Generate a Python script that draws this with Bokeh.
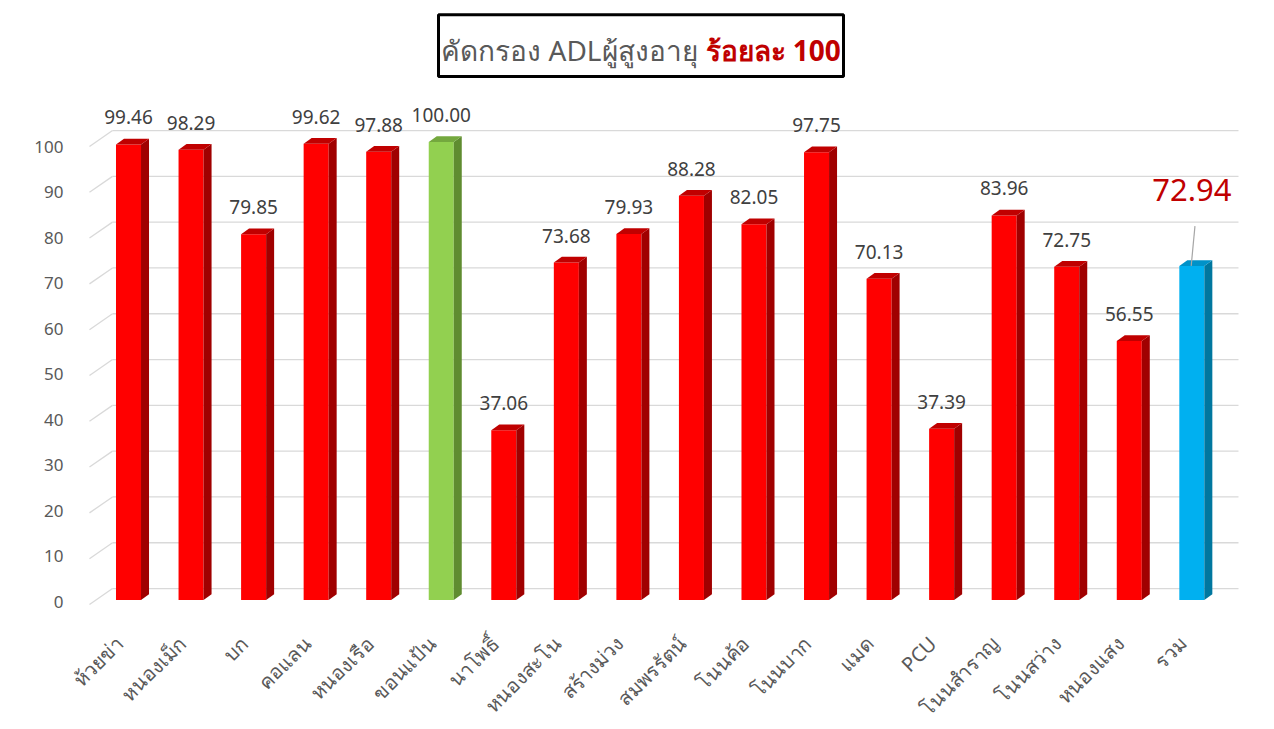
import math
from bokeh.plotting import figure
from bokeh.models import Range1d, FixedTicker, LinearAxis, BoxAnnotation, Label
from bokeh.core.properties import value
from bokeh.embed import file_html
from bokeh.resources import INLINE

# ---- data ----
districts = ["ห้วยข่า", "หนองเม็ก", "บก", "คอแลน", "หนองเรือ", "ขอนแป้น", "นาโพธิ์",
             "หนองสะโน", "สร้างม่วง", "สมพรรัตน์", "โนนค้อ", "โนนบาก", "แมด", "PCU",
             "โนนสำราญ", "โนนสว่าง", "หนองแสง", "รวม"]
percent = [99.46, 98.29, 79.85, 99.62, 97.88, 100.00, 37.06, 73.68, 79.93, 88.28,
           82.05, 97.75, 70.13, 37.39, 83.96, 72.75, 56.55, 72.94]
y_ticks = [0, 10, 20, 30, 40, 50, 60, 70, 80, 90, 100]
title_main = "คัดกรอง ADLผู้สูงอายุ"
title_red = "ร้อยละ 100"
total_name = "รวม"

FONT = "Noto Sans"
GRAY = "#595959"

n = len(districts)
xs = list(range(n))

# frame spans nearly the whole canvas so rotated category labels can be drawn below the floor
p = figure(width=1266, height=721, output_backend="svg", toolbar_location=None,
           x_range=Range1d(-1.407, 18.066), y_range=Range1d(-26.53, 128.71),
           min_border_left=40, min_border_right=8, min_border_top=10, min_border_bottom=0,
           background_fill_color="white", border_fill_color="white")
p.outline_line_color = None
p.xgrid.visible = False
p.ygrid.visible = False
p.xaxis.visible = False
p.yaxis.visible = False

# y labels sit on the front floor edge (slightly lower than bar fronts)
p.extra_y_ranges = {"ax": Range1d(-26.37, 129.89)}
yax = LinearAxis(y_range_name="ax", ticker=FixedTicker(ticks=y_ticks))
yax.axis_line_color = None
yax.major_tick_line_color = None
yax.minor_tick_line_color = None
yax.major_tick_out = 0
yax.major_tick_in = 0
yax.major_label_standoff = -23
yax.major_label_text_font = FONT
yax.major_label_text_font_size = "17px"
yax.major_label_text_color = GRAY
p.add_layout(yax, "left")

# ---- 3D wall grid ----
wall_dy = 2.5
wall_left_front = -0.624
wall_left_back = -0.256
wall_right = 17.746
front_drop = 0.98
p.segment(x0=[wall_left_back] * len(y_ticks), y0=[t + wall_dy for t in y_ticks],
          x1=[wall_right] * len(y_ticks), y1=[t + wall_dy for t in y_ticks],
          line_color="#D9D9D9", line_width=1.3)
p.segment(x0=[wall_left_front] * len(y_ticks), y0=[t - front_drop for t in y_ticks],
          x1=[wall_left_back] * len(y_ticks), y1=[t + wall_dy for t in y_ticks],
          line_color="#D9D9D9", line_width=1.3)

# ---- 3D bars ----
hw = 0.2
ddx = 0.128
ddy = 1.25
vmax = max(percent)
front, side, top = [], [], []
for d, v in zip(districts, percent):
    if d == total_name:
        front.append("#00B0F0"); side.append("#00779F"); top.append("#0092C8")
    elif v == vmax:
        front.append("#92D050"); side.append("#5F8C30"); top.append("#74A83E")
    else:
        front.append("#FF0000"); side.append("#A00000"); top.append("#C00000")

p.quad(left=[x - hw for x in xs], right=[x + hw for x in xs],
       bottom=[0] * n, top=percent, fill_color=front, line_color=None)
p.patches(xs=[[x + hw, x + hw + ddx, x + hw + ddx, x + hw] for x in xs],
          ys=[[0, ddy, v + ddy, v] for v in percent],
          fill_color=side, line_color=None)
p.patches(xs=[[x - hw, x + hw, x + hw + ddx, x - hw + ddx] for x in xs],
          ys=[[v, v, v + ddy, v + ddy] for v in percent],
          fill_color=top, line_color=None)

# ---- category labels (rotated 45°, ending just left of each bar) ----
p.text(x=xs, y=[0] * n, text=districts, angle=math.pi / 4,
       text_align="right", text_baseline="middle", x_offset=-9, y_offset=40,
       text_font=value(FONT), text_font_size="20px", text_color=GRAY)

# ---- value labels ----
lab_x = [x for x, d in zip(xs, districts) if d != total_name]
lab_y = [v for v, d in zip(percent, districts) if d != total_name]
lab_t = [f"{v:.2f}" for v in lab_y]
p.text(x=lab_x, y=lab_y, text=lab_t, text_align="center", text_baseline="alphabetic",
       y_offset=-27, text_font=value(FONT), text_font_size="19px", text_color="#404040")

tot_x = [x for x, d in zip(xs, districts) if d == total_name]
tot_y = [v for v, d in zip(percent, districts) if d == total_name]
p.segment(x0=[x + 0.05 for x in tot_x], y0=[v + 8.7 for v in tot_y],
          x1=[x - 0.01 for x in tot_x], y1=tot_y, line_color="#A6A6A6", line_width=1.2)
p.text(x=tot_x, y=tot_y, text=[f"{v:.2f}" for v in tot_y], text_align="center",
       text_baseline="alphabetic", y_offset=-76, text_font=value(FONT),
       text_font_size="31px", text_color="#C00000")

# ---- title box ----
p.add_layout(BoxAnnotation(left=4.956, right=11.431, bottom=114.3, top=127.8,
                           fill_color="white", fill_alpha=1.0,
                           line_color="black", line_width=3, line_alpha=1.0))
p.add_layout(Label(x=9.097, y=120.1, text=title_main, text_align="right",
                   text_baseline="alphabetic", text_font=FONT, text_font_size="28px",
                   text_color=GRAY))
p.add_layout(Label(x=9.225, y=120.1, text=title_red, text_align="left",
                   text_baseline="alphabetic", text_font=FONT, text_font_size="28px",
                   text_font_style="bold", text_color="#C00000"))

open("out.html", "w").write(file_html(p, INLINE))
